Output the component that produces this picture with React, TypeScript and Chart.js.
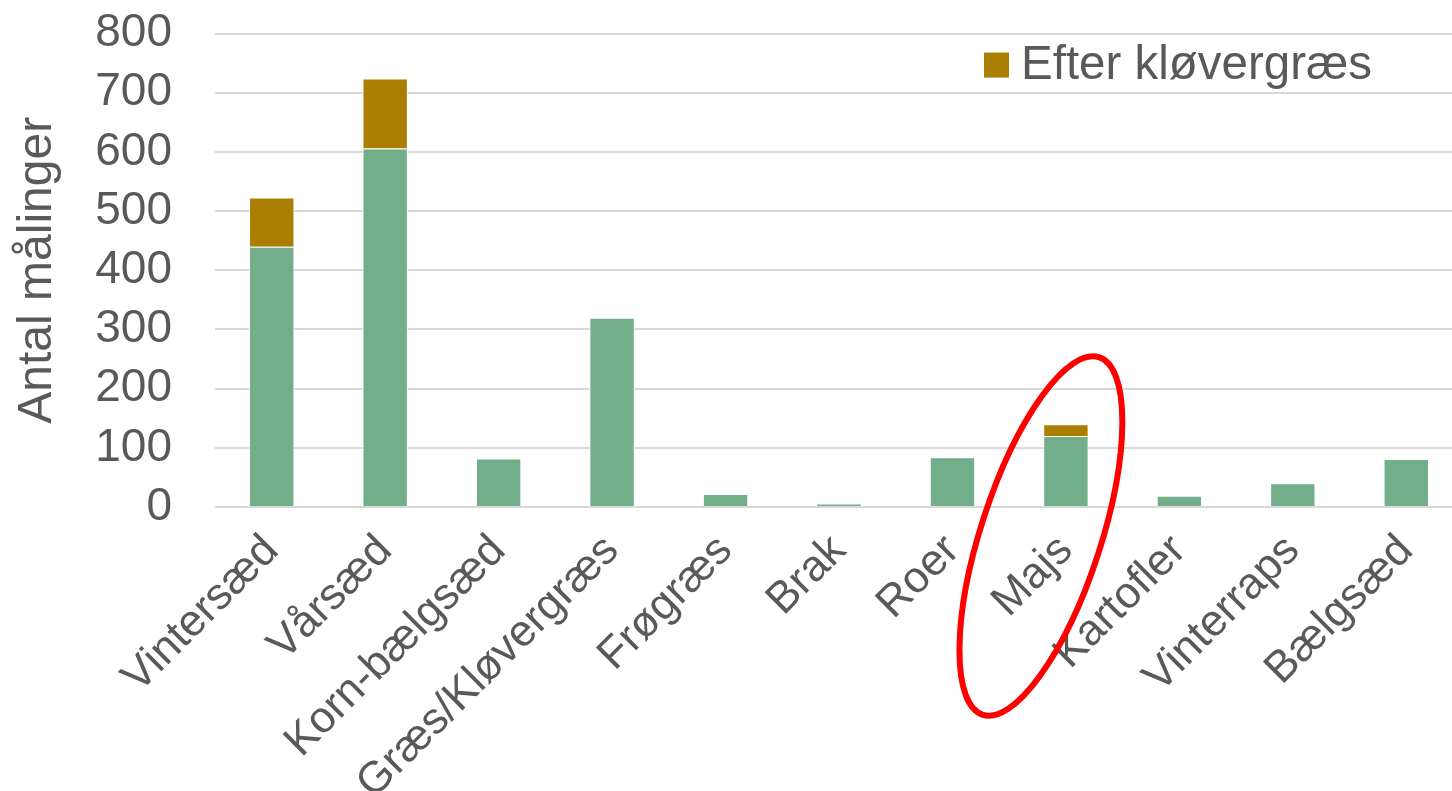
import React, { useEffect, useRef } from "react";
import { Chart, registerables } from "chart.js";

Chart.register(...registerables);

const categories = [
  "Vintersæd",
  "Vårsæd",
  "Korn-bælgsæd",
  "Græs/Kløvergræs",
  "Frøgræs",
  "Brak",
  "Roer",
  "Majs",
  "Kartofler",
  "Vinterraps",
  "Bælgsæd",
];
const baseValues = [440, 606, 82, 320, 22, 6, 84, 120, 19, 40, 81];
const afterCloverValues = [83, 118, null, null, null, null, null, 20, null, null, null];
const seriesNames = ["Øvrige", "Efter kløvergræs"];
const yAxisTitle = "Antal målinger";
const highlightedCategory = "Majs";

const GREEN = "#71AE89";
const BROWN = "#AA7E00";
const TEXT = "#595959";
const GRID = "#D9D9D9";
const FONT = "'Liberation Sans', Arial, sans-serif";
const TOP_SHIFT = 37;

const legendPlugin = {
  id: "customLegend",
  afterDraw(chart: any) {
    const { ctx, chartArea } = chart;
    const ds = chart.data.datasets[1];
    const x = chartArea.right - 479;
    const y = chartArea.top + 19;
    ctx.save();
    ctx.fillStyle = ds.backgroundColor;
    ctx.fillRect(x, y, 25, 25);
    ctx.fillStyle = TEXT;
    ctx.font = `47.5px ${FONT}`;
    ctx.textBaseline = "middle";
    ctx.textAlign = "left";
    ctx.fillText(ds.label, x + 37, y + 13);
    ctx.restore();
  },
};

const ellipsePlugin = {
  id: "highlightEllipse",
  afterDraw(chart: any) {
    const { ctx, scales } = chart;
    const idx = categories.indexOf(highlightedCategory);
    const cx = scales.x.getPixelForValue(idx) - 25;
    const cy = scales.y.getPixelForValue(0) + 29;
    ctx.save();
    ctx.strokeStyle = "#FF0000";
    ctx.lineWidth = 6;
    ctx.beginPath();
    ctx.ellipse(cx, cy, 60, 188, (18 * Math.PI) / 180, 0, Math.PI * 2);
    ctx.stroke();
    ctx.restore();
  },
};

export default function App() {
  const canvasRef = useRef<HTMLCanvasElement | null>(null);

  useEffect(() => {
    if (!canvasRef.current) return;
    const chart = new Chart(canvasRef.current, {
      type: "bar",
      data: {
        labels: categories,
        datasets: [
          {
            label: seriesNames[0],
            data: baseValues,
            backgroundColor: GREEN,
            borderColor: "#FFFFFF",
            borderWidth: 1,
            barPercentage: 0.4,
            categoryPercentage: 1,
          },
          {
            label: seriesNames[1],
            data: afterCloverValues as any,
            backgroundColor: BROWN,
            borderColor: "#FFFFFF",
            borderWidth: 1,
            barPercentage: 0.4,
            categoryPercentage: 1,
          },
        ],
      },
      options: {
        responsive: false,
        animation: false,
        devicePixelRatio: 1,
        layout: { padding: 0 },
        plugins: {
          legend: { display: false },
          tooltip: { enabled: false },
        },
        scales: {
          x: {
            stacked: true,
            grid: { display: false },
            border: { display: false },
            afterFit: (scale: any) => {
              scale.height = 284;
            },
            ticks: {
              color: TEXT,
              font: { family: FONT, size: 44 },
              minRotation: 45,
              maxRotation: 45,
              autoSkip: false,
              padding: 10,
            },
          },
          y: {
            stacked: true,
            min: 0,
            max: 800,
            afterFit: (scale: any) => {
              scale.width = 215;
            },
            grid: { color: GRID, lineWidth: 2, drawTicks: false },
            border: { display: false },
            ticks: {
              stepSize: 100,
              autoSkip: false,
              color: TEXT,
              font: { family: FONT, size: 46 },
              padding: 43,
            },
            title: {
              display: true,
              text: yAxisTitle,
              color: TEXT,
              font: { family: FONT, size: 48 },
              padding: { top: 9, bottom: 0 },
            },
          },
        },
      },
      plugins: [legendPlugin, ellipsePlugin],
    });
    return () => chart.destroy();
  }, []);

  return (
    <div
      style={{
        position: "fixed",
        left: 0,
        top: 0,
        width: 1452,
        height: 791,
        overflow: "hidden",
        background: "#FFFFFF",
      }}
    >
      <canvas
        ref={canvasRef}
        width={1463}
        height={791 + TOP_SHIFT}
        style={{
          width: 1463,
          height: 791 + TOP_SHIFT,
          display: "block",
          position: "absolute",
          left: 0,
          top: -TOP_SHIFT,
        }}
      />
    </div>
  );
}
